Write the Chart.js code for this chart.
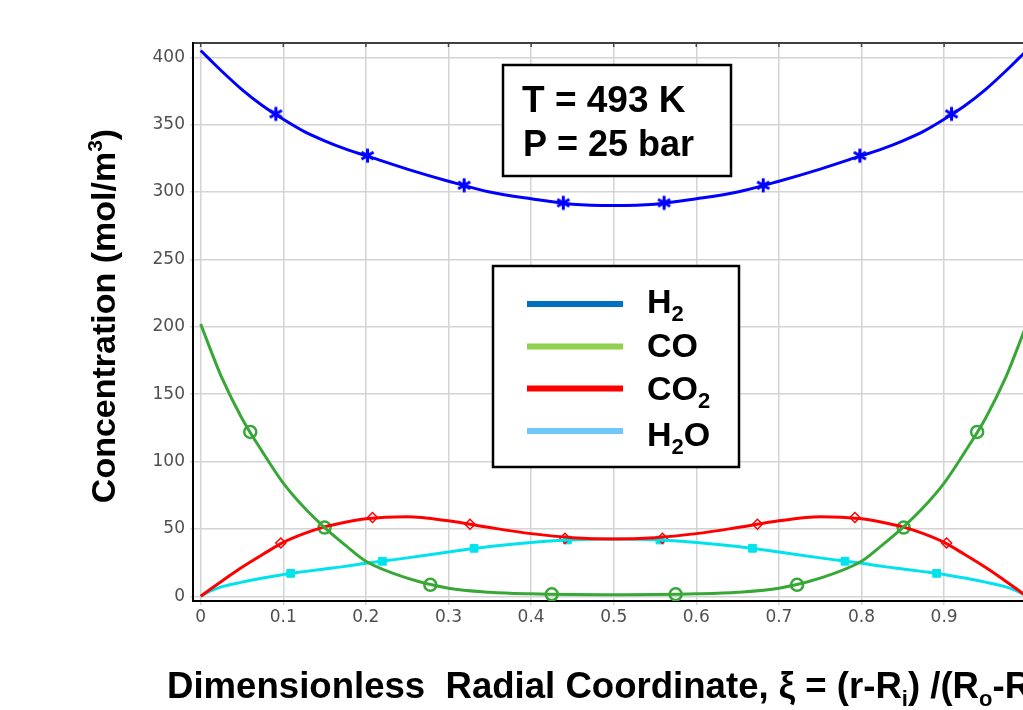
<!DOCTYPE html>
<html>
<head>
<meta charset="utf-8">
<title>Radial concentration profiles</title>
<script src="https://cdn.jsdelivr.net/npm/chart.js@4/dist/chart.umd.min.js"></script>
<style>
  html, body { margin: 0; padding: 0; background: #fff; overflow: hidden; }
  canvas { display: block; }
</style>
</head>
<body>
<canvas id="chart" width="1023" height="710"></canvas>
<script>
// radial positions used for the smooth profiles
const xs = [0, 0.01, 0.025, 0.05, 0.075, 0.1, 0.125, 0.15, 0.175, 0.2, 0.25, 0.3, 0.35, 0.4, 0.45, 0.5,
  0.55, 0.6, 0.65, 0.7, 0.75, 0.8, 0.825, 0.85, 0.875, 0.9, 0.925, 0.95, 0.975, 0.99, 1.0]

const h2 = [405, 399, 390, 376, 364, 354, 345, 338, 332, 327, 317, 308, 300, 295, 291, 290,
  291, 295, 300, 308, 317, 327, 332, 338, 345, 354, 364, 376, 390, 399, 405]
const co = [202, 186, 163, 132, 107, 84, 66, 51, 38, 26, 13.5, 6, 3, 1.8, 1.3, 1.2,
  1.3, 1.8, 3, 6, 13.5, 26, 38, 51, 66, 84, 107, 132, 163, 186, 202]
const co2 = [0, 4.5, 11, 21.5, 31, 40, 46.5, 51.5, 55, 57.5, 59, 56, 51, 46.5, 43.5, 42.5,
  43.5, 46.5, 51, 56, 59, 57.5, 55, 51.5, 46.5, 40, 31, 21.5, 11, 4.5, 0]
const h2o = [0, 3.5, 7, 10.5, 13.5, 16.2, 18.3, 20.3, 22.2, 24.5, 28.5, 32.8, 37, 40, 42, 42.5,
  42, 40, 37, 32.8, 28.5, 24.5, 22.2, 20.3, 18.3, 16.2, 13.5, 10.5, 7, 3.5, 0]

// marker positions along each profile
const h2MarkX = [0.091, 0.202, 0.319, 0.439, 0.561, 0.681, 0.798, 0.909]
const h2MarkY = [358, 327, 305, 292, 292, 305, 327, 358]
const coMarkX = [0.06, 0.15, 0.278, 0.425, 0.575, 0.722, 0.851, 0.94]
const coMarkY = [122, 51, 8.5, 1.5, 1.5, 8.5, 51, 122]
const co2MarkX = [0.097, 0.208, 0.326, 0.441, 0.559, 0.674, 0.792, 0.903]
const co2MarkY = [39.5, 58.5, 53.5, 43, 43, 53.5, 58.5, 39.5]
const h2oMarkX = [0.109, 0.22, 0.331, 0.444, 0.556, 0.668, 0.78, 0.891]
const h2oMarkY = [17, 26, 35.6, 41.8, 41.8, 35.6, 26, 17]

const xTicks = [0, 0.1, 0.2, 0.3, 0.4, 0.5, 0.6, 0.7, 0.8, 0.9]
const xTickLabels = ['0', '0.1', '0.2', '0.3', '0.4', '0.5', '0.6', '0.7', '0.8', '0.9']
const yTicks = [0, 50, 100, 150, 200, 250, 300, 350, 400]

const legendNames = [['H', '2', ''], ['CO', '', ''], ['CO', '2', ''], ['H', '2', 'O']]
const legendColors = ['#0070c0', '#92d050', '#ff0000', '#70c8f8']

const pts = (xv, yv) => xv.map((x, i) => ({ x, y: yv[i] }))

const BLUE = '#0000ff'
const GREEN = '#37a837'
const RED = '#ff0000'
const CYAN = '#00e3ec'

const FONT = '"Liberation Sans", Arial, sans-serif'

// six-armed asterisk used for the H2 markers
function makeAsterisk(size, color, width) {
  const c = document.createElement('canvas')
  c.width = size
  c.height = size
  const g = c.getContext('2d')
  const r = size / 2 - width / 2
  g.translate(size / 2, size / 2)
  g.strokeStyle = color
  g.lineWidth = width
  g.lineCap = 'butt'
  ;[90, 30, 150].forEach((deg) => {
    const a = (deg * Math.PI) / 180
    g.beginPath()
    g.moveTo(-Math.cos(a) * r, -Math.sin(a) * r)
    g.lineTo(Math.cos(a) * r, Math.sin(a) * r)
    g.stroke()
  })
  return c
}

const curve = (data, color) => ({
  data,
  showLine: true,
  borderColor: color,
  backgroundColor: color,
  borderWidth: 3,
  pointRadius: 0,
  cubicInterpolationMode: 'monotone',
})

const marks = (data, color, style, radius, fill, width) => ({
  data,
  showLine: false,
  pointStyle: style,
  pointRadius: radius,
  borderColor: color,
  backgroundColor: fill,
  pointBorderWidth: width,
})

// draws text runs like ['H', '2', 'O'] with the middle part as subscript
function drawSubText(ctx, x, y, main, sub, tail, size, subSize, shift) {
  ctx.font = `bold ${size}px ${FONT}`
  ctx.fillText(main, x, y)
  x += ctx.measureText(main).width
  if (sub) {
    ctx.font = `bold ${subSize}px ${FONT}`
    ctx.fillText(sub, x, y + shift)
    x += ctx.measureText(sub).width
  }
  if (tail) {
    ctx.font = `bold ${size}px ${FONT}`
    ctx.fillText(tail, x, y)
    x += ctx.measureText(tail).width
  }
  return x
}

const overlayPlugin = {
  id: 'overlay',
  afterDraw(chart) {
    const { ctx, chartArea } = chart
    const xScale = chart.scales.x
    ctx.save()

    // top frame line and its inner ticks
    ctx.strokeStyle = '#000'
    ctx.lineWidth = 1.5
    ctx.beginPath()
    ctx.moveTo(chartArea.left, chartArea.top)
    ctx.lineTo(chartArea.right, chartArea.top)
    ctx.stroke()
    ctx.strokeStyle = '#444'
    xTicks.forEach((v) => {
      const px = xScale.getPixelForValue(v)
      ctx.beginPath()
      ctx.moveTo(px, chartArea.top)
      ctx.lineTo(px, chartArea.top + 4)
      ctx.stroke()
    })

    // conditions box
    ctx.fillStyle = '#fff'
    ctx.fillRect(503, 65, 228, 111)
    ctx.lineWidth = 2.5
    ctx.strokeStyle = '#000'
    ctx.strokeRect(503, 65, 228, 111)
    ctx.fillStyle = '#000'
    ctx.textAlign = 'left'
    ctx.textBaseline = 'alphabetic'
    ctx.font = `bold 37px ${FONT}`
    ctx.fillText('T = 493 K', 522, 112)
    ctx.font = `bold 36px ${FONT}`
    ctx.fillText('P = 25 bar', 523, 156)

    // legend box
    ctx.fillStyle = '#fff'
    ctx.fillRect(493, 266, 246, 201)
    ctx.strokeRect(493, 266, 246, 201)
    const rowY = [304, 346.5, 388.5, 431]
    const baseY = [313, 357, 400, 446]
    legendNames.forEach((n, i) => {
      ctx.strokeStyle = legendColors[i]
      ctx.lineWidth = 6
      ctx.beginPath()
      ctx.moveTo(527, rowY[i])
      ctx.lineTo(623, rowY[i])
      ctx.stroke()
      ctx.fillStyle = '#000'
      drawSubText(ctx, 647, baseY[i], n[0], n[1], n[2], 34, 22, 8)
    })

    // y axis title
    ctx.save()
    ctx.translate(115, 316)
    ctx.rotate(-Math.PI / 2)
    const yMain = 'Concentration (mol/m'
    ctx.font = `bold 34px ${FONT}`
    const w1 = ctx.measureText(yMain).width
    ctx.font = `bold 21px ${FONT}`
    const w2 = ctx.measureText('3').width
    ctx.font = `bold 34px ${FONT}`
    const w3 = ctx.measureText(')').width
    let tx = -(w1 + w2 + w3) / 2
    ctx.fillText(yMain, tx, 0)
    tx += w1
    ctx.font = `bold 21px ${FONT}`
    ctx.fillText('3', tx, -13)
    tx += w2
    ctx.font = `bold 34px ${FONT}`
    ctx.fillText(')', tx, 0)
    ctx.restore()

    // x axis title, runs past the right edge
    let x = drawSubText(ctx, 167, 698, 'Dimensionless  Radial Coordinate, \u03BE = (r-R', 'i', ') /(R', 36.6, 22, 8)
    x = drawSubText(ctx, x, 698, '', 'o', '-R', 36.6, 22, 8)
    drawSubText(ctx, x, 698, '', 'i', ')', 36.6, 22, 8)

    ctx.restore()
  },
}

const config = {
  type: 'scatter',
  data: {
    datasets: [
      curve(pts(xs, h2), BLUE),
      curve(pts(xs, co), GREEN),
      curve(pts(xs, co2), RED),
      curve(pts(xs, h2o), CYAN),
      marks(pts(h2MarkX, h2MarkY), BLUE, makeAsterisk(17, BLUE, 3), 8, BLUE, 1),
      marks(pts(coMarkX, coMarkY), GREEN, 'circle', 6, 'rgba(0,0,0,0)', 2.5),
      marks(pts(co2MarkX, co2MarkY), RED, 'rectRot', 5, 'rgba(0,0,0,0)', 1.5),
      marks(pts(h2oMarkX, h2oMarkY), CYAN, 'rect', 5.5, CYAN, 1),
    ],
  },
  options: {
    responsive: false,
    animation: false,
    devicePixelRatio: 1,
    layout: { autoPadding: false, padding: { top: 43, right: 0, left: 0, bottom: 0 } },
    plugins: {
      legend: { display: false },
      tooltip: { enabled: false },
    },
    scales: {
      x: {
        type: 'linear',
        min: -0.0093,
        max: 0.9955,
        afterBuildTicks: (scale) => {
          scale.ticks = xTicks.map((value) => ({ value }))
        },
        afterFit: (scale) => {
          scale.height = 109
        },
        ticks: {
          color: '#505050',
          padding: 2,
          maxRotation: 0,
          autoSkip: false,
          font: { family: '"DejaVu Sans", Verdana, sans-serif', size: 17 },
          callback: (value) => xTickLabels[xTicks.indexOf(value)],
        },
        grid: {
          color: '#d4d4d4',
          lineWidth: 1.5,
          tickLength: 4,
          tickColor: '#d4d4d4',
        },
        border: { display: true, color: '#000', width: 2 },
      },
      y: {
        type: 'linear',
        min: -3.5,
        max: 410.6,
        afterBuildTicks: (scale) => {
          scale.ticks = yTicks.map((value) => ({ value }))
        },
        afterFit: (scale) => {
          scale.width = 193
        },
        ticks: {
          color: '#505050',
          padding: 5,
          font: { family: '"DejaVu Sans", Verdana, sans-serif', size: 17 },
        },
        grid: {
          color: '#d4d4d4',
          lineWidth: 1.5,
          tickLength: 3,
          tickColor: '#d4d4d4',
        },
        border: { display: true, color: '#000', width: 2 },
      },
    },
  },
  plugins: [overlayPlugin],
}

const ctx = document.getElementById('chart').getContext('2d')
new Chart(ctx, config)
</script>
</body>
</html>
